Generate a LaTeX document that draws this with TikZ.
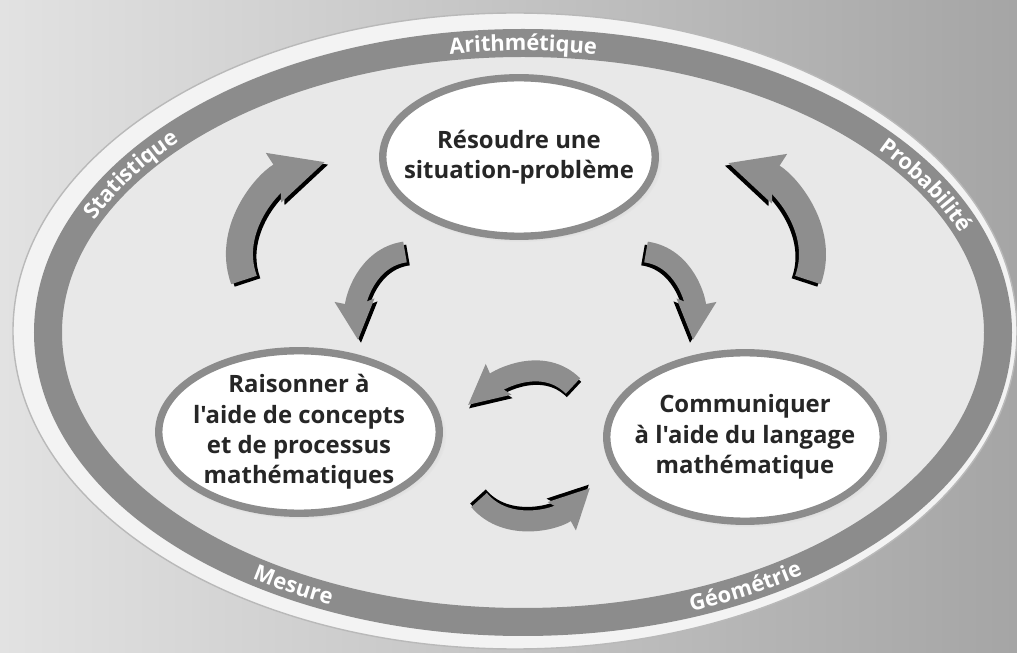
\documentclass[tikz,border=0pt]{standalone}
\usepackage{fontspec}
\newfontfamily\plainsans{Open Sans}
\usepackage{tikz}
\usetikzlibrary{shapes.geometric}
\usetikzlibrary{arrows.meta}
\usetikzlibrary{decorations.text}
\usetikzlibrary{shadows}
\usetikzlibrary{calc}
\usepackage{xcolor}
\definecolor{bgleft}{HTML}{E2E2E2}
\definecolor{bgright}{HTML}{A5A5A5}
\definecolor{rimfill}{HTML}{F3F3F3}
\definecolor{planfill}{HTML}{E8E8E8}
\definecolor{ringgray}{HTML}{8C8C8C}
\definecolor{arrowgray}{HTML}{8E8E8E}
\definecolor{inkgray}{HTML}{262626}
\newcommand{\ringfont}{\plainsans\bfseries\fontsize{12.5}{13}\selectfont}

\begin{document}
\begin{tikzpicture}[
  bubble/.style={ellipse, draw=ringgray, line width=4.2pt, fill=white,
    align=center, inner sep=-1.5cm, text=inkgray,
    font=\plainsans\bfseries\fontsize{13.6}{17.3}\selectfont,
    circular drop shadow={shadow xshift=0.03cm, shadow yshift=-0.05cm, shadow scale=1.04, opacity=0.35}},
  bigarrow/.style={line width=0.54cm, -{Stealth[width=0.98cm,length=1.05cm,inset=0.12cm]}},
  smallarrow/.style={line width=0.42cm, -{Stealth[width=0.76cm,length=0.78cm,inset=0.1cm]}},
  ringtext/.style={decorate, decoration={text along path, text color=white,
    text align=center, raise=-4.4pt, text={#1}}}
]
% background and outer plate
\shade [left color=bgleft, right color=bgright] (0,0) rectangle (20.34,13.04);
\useasboundingbox (0,0) rectangle (20.34,13.04);
\fill [rimfill] (10.30,6.42) ellipse [x radius=10.04, y radius=6.36];
\draw [gray!55, line width=0.8pt] (10.30,6.42) ellipse [x radius=10.04, y radius=6.36];
\coordinate (ringc) at (10.46,6.39);
\fill [planfill] (ringc) ellipse [x radius=9.5, y radius=5.79];
\draw [ringgray, line width=0.56cm] (ringc) ellipse [x radius=9.5, y radius=5.79];

% labels on the ring
\path [ringtext={|\ringfont|Arithmétique}] ($(ringc)+(110:9.5 and 5.79)$) arc [start angle=110, end angle=70, x radius=9.5, y radius=5.79];
\path [ringtext={|\ringfont|Statistique}] ($(ringc)+(168:9.5 and 5.79)$) arc [start angle=168, end angle=128, x radius=9.5, y radius=5.79];
\path [ringtext={|\ringfont|Probabilité}] ($(ringc)+(50:9.5 and 5.79)$) arc [start angle=50, end angle=9, x radius=9.5, y radius=5.79];
\path [ringtext={|\ringfont|Mesure}] ($(ringc)+(220:9.5 and 5.79)$) arc [start angle=220, end angle=260, x radius=9.5, y radius=5.79];
\path [ringtext={|\ringfont|Géométrie}] ($(ringc)+(279:9.5 and 5.79)$) arc [start angle=279, end angle=319, x radius=9.5, y radius=5.79];

% the three competencies
\node [bubble, minimum width=5.45cm, minimum height=3.17cm] (solve) at (10.38,9.90) {Résoudre une\\situation-problème};
\node [bubble, minimum width=5.61cm, minimum height=3.25cm] (reason) at (5.98,4.40) {Raisonner à\\l'aide de concepts\\et de processus\\mathématiques};
\node [bubble, minimum width=5.53cm, minimum height=3.37cm] (speak) at (14.90,4.30) {Communiquer\\à l'aide du langage\\mathématique};

% arrow ends
\coordinate (upleft) at (4.88,7.44);
\coordinate (upleftend) at (6.50,9.80);
\coordinate (upright) at (16.16,7.44);
\coordinate (uprightend) at (14.56,9.78);
\coordinate (downleft) at (8.10,8.00);
\coordinate (downleftend) at (7.16,6.24);
\coordinate (downright) at (12.92,8.00);
\coordinate (downrightend) at (13.86,6.24);
\coordinate (midtop) at (11.46,5.32);
\coordinate (midtopend) at (9.36,4.94);
\coordinate (midbot) at (9.58,3.04);
\coordinate (midbotend) at (11.80,3.28);

% curved arrows, dark edge first
\draw [bigarrow, black, transform canvas={xshift=0.07cm, yshift=-0.05cm}] (upleft) to[out=110, in=197] (upleftend);
\draw [bigarrow, arrowgray] (upleft) to[out=110, in=197] (upleftend);
\draw [bigarrow, black, transform canvas={xshift=-0.07cm, yshift=-0.05cm}] (upright) to[out=70, in=-17] (uprightend);
\draw [bigarrow, arrowgray] (upright) to[out=70, in=-17] (uprightend);
\draw [smallarrow, black, transform canvas={xshift=0.06cm, yshift=-0.06cm}] (downleft) to[out=188, in=95] (downleftend);
\draw [smallarrow, arrowgray] (downleft) to[out=188, in=95] (downleftend);
\draw [smallarrow, black, transform canvas={xshift=-0.06cm, yshift=-0.06cm}] (downright) to[out=-8, in=85] (downrightend);
\draw [smallarrow, arrowgray] (downright) to[out=-8, in=85] (downrightend);
\draw [smallarrow, black, transform canvas={xshift=0.02cm, yshift=-0.07cm}] (midtop) to[out=135, in=40] (midtopend);
\draw [smallarrow, arrowgray] (midtop) to[out=135, in=40] (midtopend);
\draw [smallarrow, black, transform canvas={xshift=-0.02cm, yshift=0.07cm}] (midbot) to[out=-50, in=225] (midbotend);
\draw [smallarrow, arrowgray] (midbot) to[out=-50, in=225] (midbotend);

\end{tikzpicture}
\end{document}
